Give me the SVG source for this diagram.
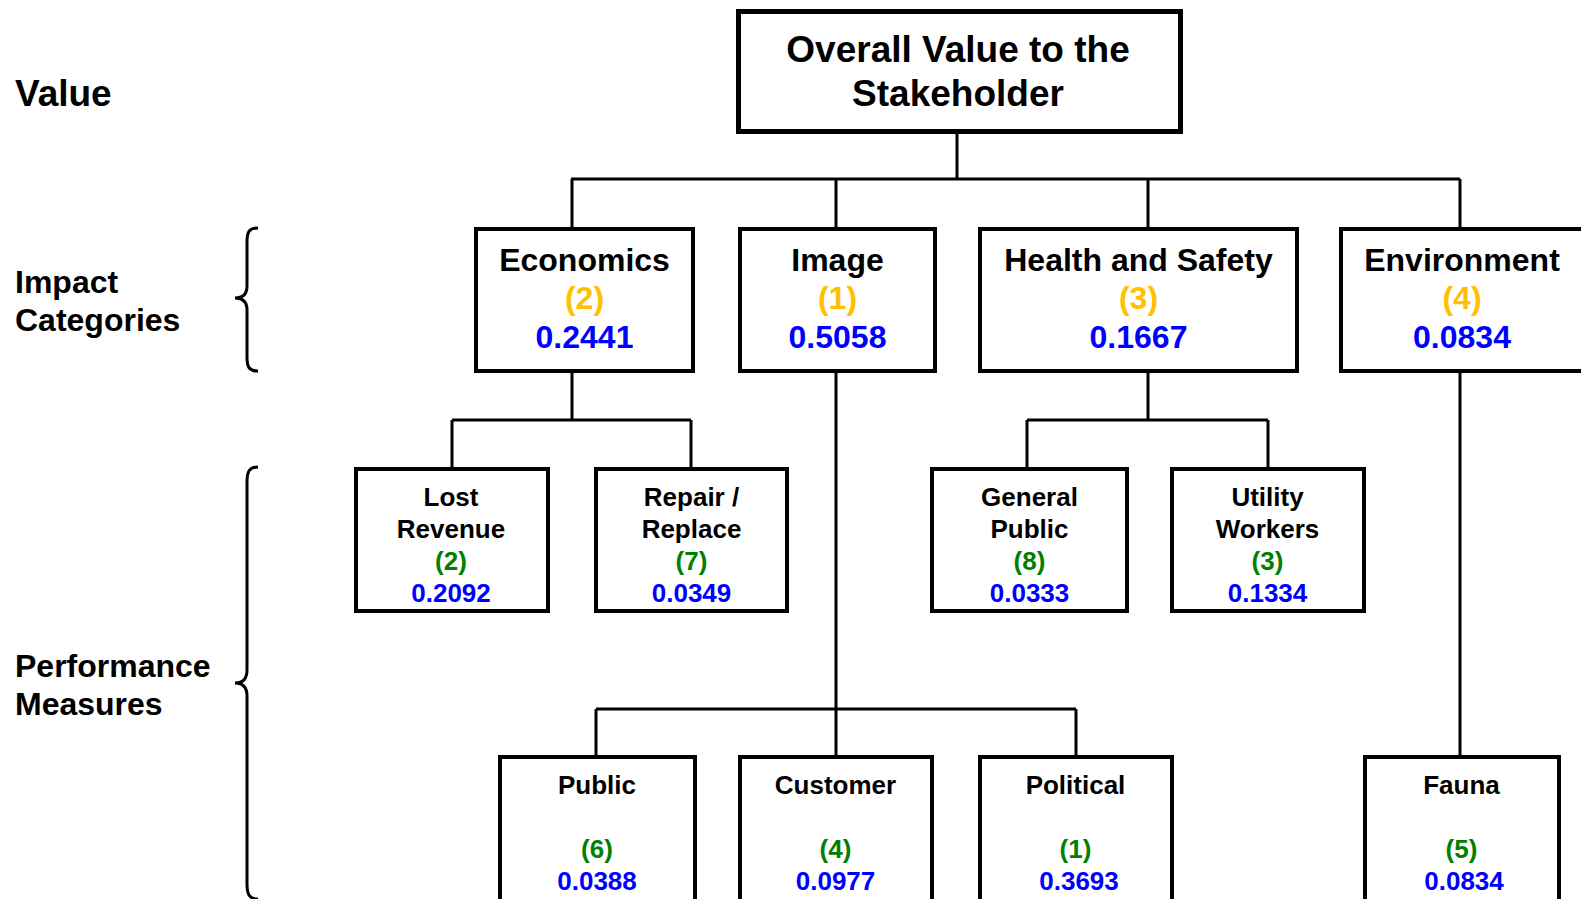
<svg xmlns="http://www.w3.org/2000/svg" width="1581" height="899" viewBox="0 0 1581 899">
<style>
text{font-family:"Liberation Sans",Arial,sans-serif;font-weight:bold;text-anchor:middle}
.box{fill:#fff;stroke:#000;stroke-width:4}
.top{fill:#fff;stroke:#000;stroke-width:5}
.c{fill:none;stroke:#000;stroke-width:3}
.brace{fill:none;stroke:#000;stroke-width:3}
.t2{font-size:32px;fill:#000}
.t3{font-size:26px;fill:#000}
.y{font-size:32px;fill:#FFC000}
.b2{font-size:32px;fill:#0000FF}
.g{font-size:26px;fill:#008000}
.b3{font-size:26px;fill:#0000FF}
.lab{text-anchor:start;fill:#000}
</style>
<rect width="1581" height="899" fill="#fff"/>
<g id="connectors">
<path class="c" d="M957,133 V179 M571,179 H1460 M572,179 V228 M836,179 V228 M1148,179 V228 M1460,179 V228"/>
<path class="c" d="M572,372 V420 M452,420 H691 M452,420 V468 M691,420 V468"/>
<path class="c" d="M1148,372 V420 M1027,420 H1268 M1027,420 V468 M1268,420 V468"/>
<path class="c" d="M836,372 V756 M596,709 H1076 M596,709 V756 M1076,709 V756"/>
<path class="c" d="M1460,372 V756"/>
</g>
<g id="labels">
<text class="lab" x="15" y="106" style="font-size:37px">Value</text>
<text class="lab" x="15" y="293" style="font-size:32px">Impact</text>
<text class="lab" x="15" y="331" style="font-size:32px">Categories</text>
<text class="lab" x="15" y="677" style="font-size:32px">Performance</text>
<text class="lab" x="15" y="715" style="font-size:32px">Measures</text>
<path class="brace" d="M258,228 C249,228 247,232 247,242 L247,286 C247,294 243,298 235,298 C243,298 247,302 247,310 L247,357 C247,367 249,371 258,371"/>
<path class="brace" d="M258,467 C249,467 247,472 247,482 L247,670 C247,679 243,683 235,683 C243,683 247,687 247,696 L247,884 C247,894 249,899 258,899"/>
</g>
<g id="overall">
<rect class="top" x="738.5" y="11.5" width="442" height="120"/>
<text x="958" y="62" style="font-size:37px">Overall Value to the</text>
<text x="958" y="106" style="font-size:37px">Stakeholder</text>
</g>
<g id="economics">
<rect class="box" x="476" y="229" width="217" height="142"/>
<text class="t2" x="584.5" y="271">Economics</text>
<text class="y" x="584.5" y="309">(2)</text>
<text class="b2" x="584.5" y="348">0.2441</text>
</g>
<g id="image">
<rect class="box" x="740" y="229" width="195" height="142"/>
<text class="t2" x="837.5" y="271">Image</text>
<text class="y" x="837.5" y="309">(1)</text>
<text class="b2" x="837.5" y="348">0.5058</text>
</g>
<g id="health">
<rect class="box" x="980" y="229" width="317" height="142"/>
<text class="t2" x="1138.5" y="271">Health and Safety</text>
<text class="y" x="1138.5" y="309">(3)</text>
<text class="b2" x="1138.5" y="348">0.1667</text>
</g>
<g id="environment">
<rect class="box" x="1341" y="229" width="250" height="142"/>
<text class="t2" x="1462" y="271">Environment</text>
<text class="y" x="1462" y="309">(4)</text>
<text class="b2" x="1462" y="348">0.0834</text>
</g>
<g id="lostrevenue">
<rect class="box" x="356" y="469" width="192" height="142"/>
<text class="t3" x="451" y="506">Lost</text>
<text class="t3" x="451" y="538">Revenue</text>
<text class="g" x="451" y="570">(2)</text>
<text class="b3" x="451" y="602">0.2092</text>
</g>
<g id="repair">
<rect class="box" x="596" y="469" width="191" height="142"/>
<text class="t3" x="691.5" y="506">Repair /</text>
<text class="t3" x="691.5" y="538">Replace</text>
<text class="g" x="691.5" y="570">(7)</text>
<text class="b3" x="691.5" y="602">0.0349</text>
</g>
<g id="generalpublic">
<rect class="box" x="932" y="469" width="195" height="142"/>
<text class="t3" x="1029.5" y="506">General</text>
<text class="t3" x="1029.5" y="538">Public</text>
<text class="g" x="1029.5" y="570">(8)</text>
<text class="b3" x="1029.5" y="602">0.0333</text>
</g>
<g id="utility">
<rect class="box" x="1172" y="469" width="192" height="142"/>
<text class="t3" x="1267.5" y="506">Utility</text>
<text class="t3" x="1267.5" y="538">Workers</text>
<text class="g" x="1267.5" y="570">(3)</text>
<text class="b3" x="1267.5" y="602">0.1334</text>
</g>
<g id="public">
<rect class="box" x="500" y="757" width="195" height="150"/>
<text class="t3" x="597" y="794">Public</text>
<text class="g" x="597" y="858">(6)</text>
<text class="b3" x="597" y="890">0.0388</text>
</g>
<g id="customer">
<rect class="box" x="740" y="757" width="192" height="150"/>
<text class="t3" x="835.5" y="794">Customer</text>
<text class="g" x="835.5" y="858">(4)</text>
<text class="b3" x="835.5" y="890">0.0977</text>
</g>
<g id="political">
<rect class="box" x="980" y="757" width="192" height="150"/>
<text class="t3" x="1075.5" y="794">Political</text>
<text class="g" x="1075.5" y="858">(1)</text>
<text class="b3" x="1079" y="890">0.3693</text>
</g>
<g id="fauna">
<rect class="box" x="1365" y="757" width="194" height="150"/>
<text class="t3" x="1461.5" y="794">Fauna</text>
<text class="g" x="1461.5" y="858">(5)</text>
<text class="b3" x="1464" y="890">0.0834</text>
</g>
</svg>
